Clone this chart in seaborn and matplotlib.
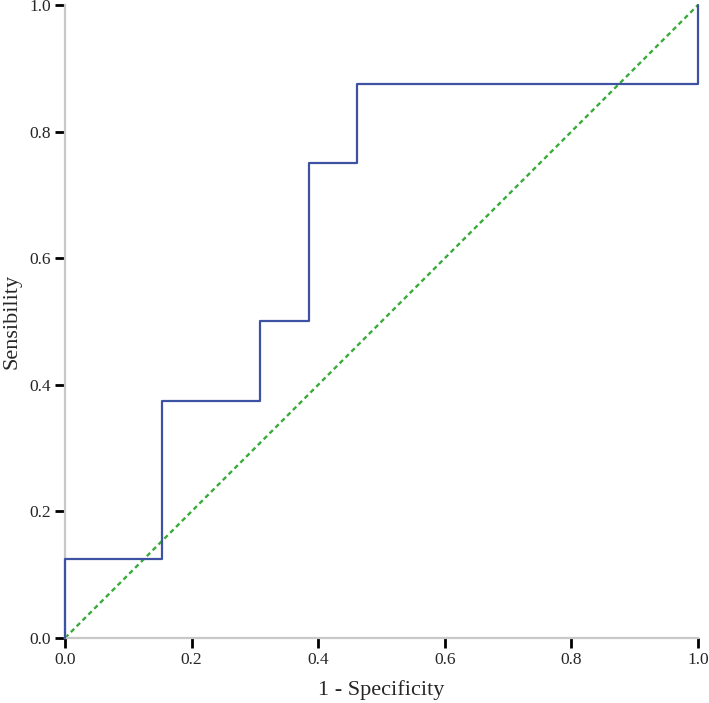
"""ROC curve (SPSS style)."""

import matplotlib

matplotlib.use("Agg")
import matplotlib.pyplot as plt
import seaborn as sns

# ROC points (13 negatives, 8 positives)
fpr = [0.0, 0.0, 0.154, 0.308, 0.385, 0.462, 1.0]
tpr = [0.0, 0.125, 0.375, 0.5, 0.75, 0.875, 1.0]
ref_x = [0.0, 1.0]
ref_y = [0.0, 1.0]
ticks = [0.0, 0.2, 0.4, 0.6, 0.8, 1.0]
tick_labels = ["0.0", "0.2", "0.4", "0.6", "0.8", "1.0"]

sns.set_style("white")
plt.rcParams["font.family"] = ["Liberation Serif", "DejaVu Serif"]

fig = plt.figure(figsize=(7.09, 7.03), dpi=100)
ax = fig.add_axes([0.0917, 0.0925, 0.8928, 0.9004])

# estimator=None so repeated x values are not averaged
sns.lineplot(x=fpr, y=tpr, ax=ax, sort=False, estimator=None, drawstyle="steps-post",
             color="#3d52a3", linewidth=1.6, clip_on=False, zorder=3)
sns.lineplot(x=ref_x, y=ref_y, ax=ax, sort=False, estimator=None, color="#3aaa3a",
             linewidth=1.7, linestyle=(0, (2, 1.5)), clip_on=False, zorder=2)

ax.set_xlim(0, 1)
ax.set_ylim(0, 1)
ax.set_xticks(ticks)
ax.set_xticklabels(tick_labels)
ax.set_yticks(ticks)
ax.set_yticklabels(tick_labels)
ax.tick_params(axis="both", direction="out", length=7, width=2, color="black",
               labelsize=12.5, pad=3, left=True, bottom=True)

sns.despine(ax=ax)
for side in ("left", "bottom"):
    ax.spines[side].set_color("#c8c8c8")
    ax.spines[side].set_linewidth(1.6)

ax.set_xlabel("1 - Specificity", fontsize=16)
ax.set_ylabel("Sensibility", fontsize=16)
ax.xaxis.set_label_coords(0.5, -0.067)
ax.yaxis.set_label_coords(-0.068, 0.5)

fig.savefig("out.png", dpi=100)
plt.close(fig)
